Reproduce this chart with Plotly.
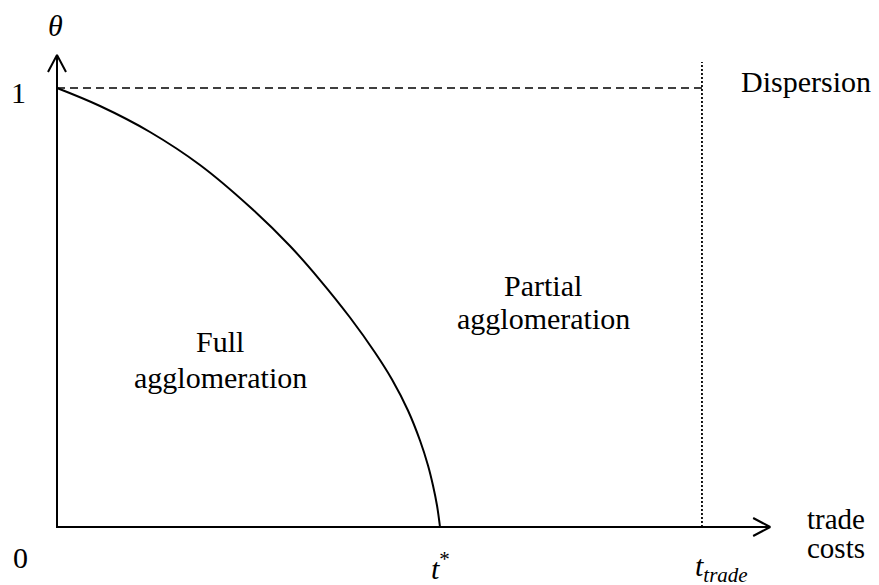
import plotly.graph_objects as go

# ---- data (trade costs t, share theta) ----
curve_t = [0.0, 0.1123, 0.2428, 0.3734, 0.5039, 0.6084, 0.6867, 0.765, 0.8303,
           0.8747, 0.9164, 0.9478, 0.9687, 0.9817, 0.9922, 1.0]
curve_theta = [1.0, 0.959, 0.8998, 0.8246, 0.7289, 0.6401, 0.5626, 0.4772, 0.3975,
               0.336, 0.2654, 0.197, 0.1401, 0.0945, 0.049, 0.0]
t_star = 1.0
t_trade = 1.684
theta_one = 1.0
x_axis_end = 1.862
y_axis_end = 1.075
y_tick_labels = ["0", "1"]

# pixel <-> data mapping used only for layout ranges / label placement
W, H = 879, 585
X0, XS = 57, 383.0
Y0, YS = 527, 439.0
def dx(px):
    return (px - X0) / XS
def dy(py):
    return (Y0 - py) / YS

FONT = "Liberation Serif"
BLACK = "black"

fig = go.Figure()

# main curve
fig.add_trace(go.Scatter(x=curve_t, y=curve_theta, mode="lines",
                         line=dict(color=BLACK, width=2, shape="spline", smoothing=1.0),
                         hoverinfo="skip"))
# dashed theta = 1 line
fig.add_trace(go.Scatter(x=[0, t_trade], y=[theta_one, theta_one], mode="lines",
                         line=dict(color=BLACK, width=1.5, dash="8px,5px"), hoverinfo="skip"))
# dotted t_trade line
fig.add_trace(go.Scatter(x=[t_trade, t_trade], y=[0, dy(62)], mode="lines",
                         line=dict(color=BLACK, width=1.8, dash="2px,2px"), hoverinfo="skip"))
# axes
fig.add_trace(go.Scatter(x=[0, 0, x_axis_end], y=[y_axis_end, 0, 0], mode="lines",
                         line=dict(color=BLACK, width=2), hoverinfo="skip"))
# arrow heads (open V)
ah_w, ah_l = 9, 17
fig.add_trace(go.Scatter(x=[-ah_w / XS, 0, ah_w / XS],
                         y=[y_axis_end - ah_l / YS, y_axis_end, y_axis_end - ah_l / YS],
                         mode="lines", line=dict(color=BLACK, width=2), hoverinfo="skip"))
fig.add_trace(go.Scatter(x=[x_axis_end - ah_l / XS, x_axis_end, x_axis_end - ah_l / XS],
                         y=[ah_w / YS, 0, -ah_w / YS],
                         mode="lines", line=dict(color=BLACK, width=2), hoverinfo="skip"))

def label(text, px, py, size=30, xanchor="center"):
    fig.add_annotation(x=dx(px), y=dy(py), text=text, showarrow=False,
                       xanchor=xanchor, yanchor="middle",
                       font=dict(family=FONT, size=size, color=BLACK))

label("<i>θ</i>", 55, 25, size=30)
label(y_tick_labels[1], 18, 92, size=30)
label(y_tick_labels[0], 20, 557, size=30)
label("<i>t</i><sup>*</sup>", 440, 566, size=30)
label("<i>t<sub>trade</sub></i>", 721, 568, size=30)
label("trade", 836, 519, size=29)
label("costs", 836, 548, size=29)
label("Dispersion", 806, 81, size=30)
label("Full", 220, 341, size=30)
label("agglomeration", 220, 377, size=30)
label("Partial", 543, 285, size=30)
label("agglomeration", 543, 318, size=30)

fig.update_layout(
    width=W, height=H,
    margin=dict(l=0, r=0, t=0, b=0),
    paper_bgcolor="white", plot_bgcolor="white",
    showlegend=False,
    xaxis=dict(range=[dx(0), dx(W)], visible=False, fixedrange=True),
    yaxis=dict(range=[dy(H), dy(0)], visible=False, fixedrange=True),
)

fig.write_html("out.html", config={"displayModeBar": False},
               post_script="document.body.style.margin='0px';document.body.style.overflow='hidden';")
